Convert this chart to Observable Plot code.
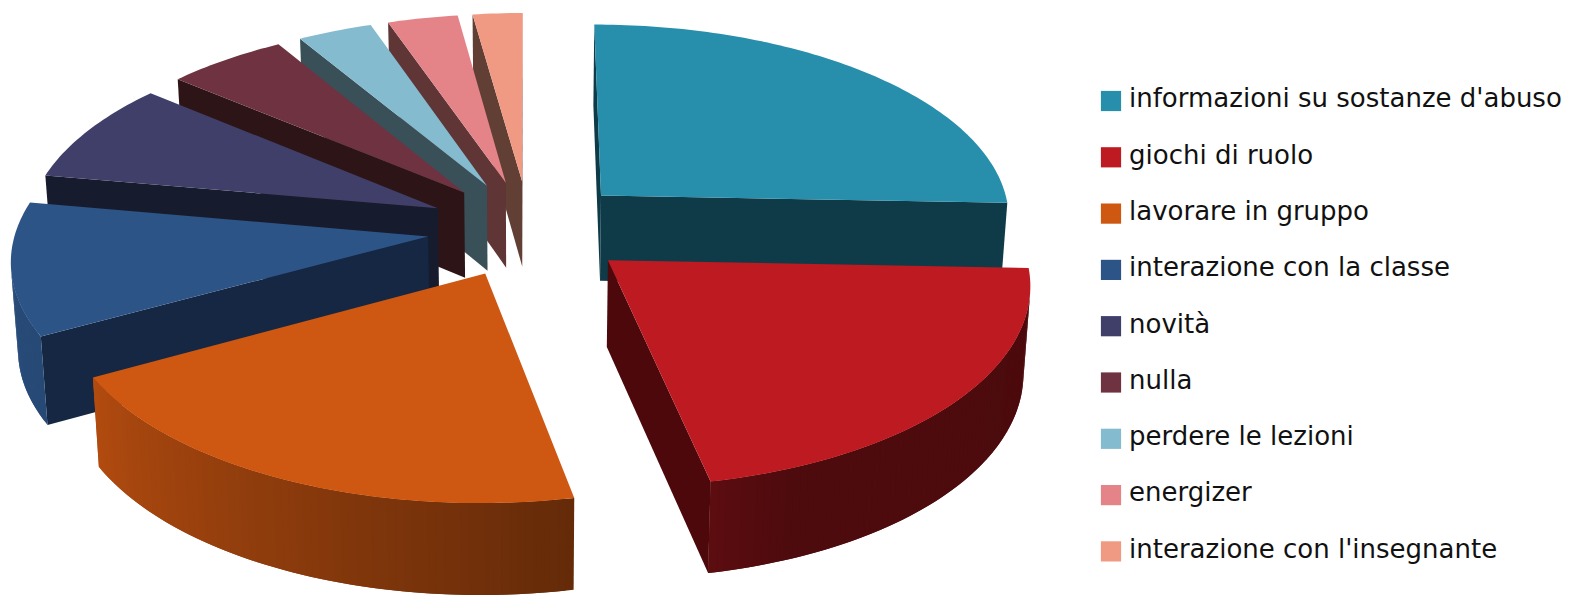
<!DOCTYPE html>
<html lang="it">
<head>
<meta charset="utf-8">
<style>html,body{margin:0;padding:0;background:#fff}svg{display:block}</style>
<script src="https://cdn.jsdelivr.net/npm/d3@7"></script>
<script src="https://cdn.jsdelivr.net/npm/@observablehq/plot@0.6"></script>
</head>
<body>
<script>
// Risposte e quote percentuali
const categories = ["informazioni su sostanze d'abuso","giochi di ruolo","lavorare in gruppo","interazione con la classe","novità","nulla","perdere le lezioni","energizer","interazione con l'insegnante"];
const shares = [25.6, 21.2, 20.2, 10.8, 8.3, 5.3, 3.3, 3.1, 2.2];
const topColors = ["#278fac","#bd1a21","#ce5712","#2d5487","#3f3f69","#6e3241","#85bbcf","#e48489","#f09a84"];
const cutColors = ["#0f3a47","#4d080c","#5e2806","#152742","#171b2e","#2d1417","#3a5058","#5f3535","#623f35"];

// Camera of the tilted pie: centre, horizontal and vertical scale, perspective, depth, explosion
const view = {cx: 528.5, cy: 228, bx: 412, ay: 195.5, p: 0.105, depth: 86, taper: 0.00016, explode: 0.247};
const project = (x, y, z) => {
  const w = 1 + view.p * y;
  return {
    x: view.cx + view.bx * x / w * (1 - view.taper * z * view.depth),
    y: view.cy - view.ay * y / w + z * view.depth / (1 + view.p * y / 2)
  };
};

// Brightness of the rim as it turns around the pie (degrees clockwise from twelve o'clock)
const rimLight = d3.scaleLinear().domain([90, 158, 169, 243, 285]).range([0.40, 0.41, 0.49, 0.87, 0.95]).clamp(true);
const shade = (color, k) => {
  const c = d3.rgb(color);
  return d3.rgb(c.r * k, c.g * k, c.b * k).formatHex();
};

const total = d3.sum(shares);
const bounds = d3.cumsum(shares).map(s => s / total * 360);
const slices = categories.map((name, i) => {
  const a0 = i ? bounds[i - 1] : 0, a1 = bounds[i], mid = (a0 + a1) / 2 * Math.PI / 180;
  return {i, name, a0, a1, ox: view.explode * Math.sin(mid), oy: view.explode * Math.cos(mid)};
});

const rimPoint = (s, deg, z) => {
  const t = deg * Math.PI / 180;
  return project(s.ox + Math.sin(t), s.oy + Math.cos(t), z);
};
const apex = (s, z) => project(s.ox, s.oy, z);

// Signed area on screen, used to drop the walls that face away from the viewer
const signedArea = pts => d3.sum(pts, (p, k) => {
  const q = pts[(k + 1) % pts.length];
  return p.x * q.y - q.x * p.y;
}) / 2;

// Faces are pushed back to front: far slices first, every top after its own walls
const faces = [];
let nextFace = 0;
const addFace = (points, color) => {
  const id = nextFace++;
  for (const p of points) faces.push({id, x: p.x, y: p.y, color});
};
for (const i of [8, 7, 6, 5, 4, 3, 0, 1, 2]) {
  const s = slices[i];
  const cutStart = [apex(s, 0), rimPoint(s, s.a0, 0), rimPoint(s, s.a0, 1), apex(s, 1)];
  const cutEnd = [apex(s, 0), rimPoint(s, s.a1, 0), rimPoint(s, s.a1, 1), apex(s, 1)];
  if (signedArea(cutStart) < 0) addFace(cutStart, cutColors[i]);
  if (signedArea(cutEnd) > 0) addFace(cutEnd, cutColors[i]);
  const steps = Math.ceil(s.a1 - s.a0);
  const step = (s.a1 - s.a0) / steps;
  for (let k = 0; k < steps; ++k) {
    const d0 = s.a0 + step * k;
    // Each band runs under the next one so no seam shows between them
    const d1 = Math.min(s.a1, d0 + step * 2);
    const band = [rimPoint(s, d0, 0), rimPoint(s, d1, 0), rimPoint(s, d1, 1), rimPoint(s, d0, 1)];
    if (signedArea(band) < 0) addFace(band, shade(topColors[i], rimLight(d0 + step / 2)));
  }
  const top = [apex(s, 0)];
  for (let k = 0; k <= steps; ++k) top.push(rimPoint(s, s.a0 + step * k, 0));
  addFace(top, topColors[i]);
}

// Legend rows on the right of the pie
const legend = categories.map((name, i) => ({name, color: topColors[i], y: 100.5 + i * 56.3}));

const chart = Plot.plot({
  width: 1569,
  height: 595,
  margin: 0,
  x: {domain: [0, 1569], range: [0, 1569], axis: null},
  y: {domain: [0, 595], range: [0, 595], axis: null},
  color: {type: "identity"},
  marks: [
    Plot.line(faces, {x: "x", y: "y", z: "id", fill: "color", stroke: "none"}),
    Plot.dot(legend, {x: 1110.5, y: "y", symbol: "square", r: 11.4, fill: "color"}),
    Plot.text(legend, {x: 1128.5, y: "y", text: "name", textAnchor: "start", fill: "#111", fontSize: 26, fontFamily: "DejaVu Sans", dy: -2})
  ]
});
document.body.append(chart);
</script>
</body>
</html>
